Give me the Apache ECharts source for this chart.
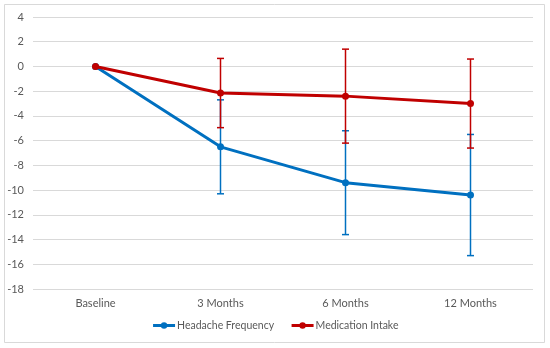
<!DOCTYPE html>
<html><head><meta charset="utf-8">
<script src="https://cdn.jsdelivr.net/npm/echarts@6/dist/echarts.min.js"></script>
<style>html,body{margin:0;padding:0;background:#fff}#c{width:550px;height:348px}</style>
</head><body><div id="c"></div>
<script>
const categories = ['Baseline', '3 Months', '6 Months', '12 Months'];
const headache = [0, -6.5, -9.4, -10.4];
const headacheErr = [0, 3.8, 4.2, 4.9];
const medication = [0, -2.15, -2.4, -3.0];
const medicationErr = [0, 2.8, 3.8, 3.6];
const yTicks = {min: -18, max: 4, interval: 2};

const FONT = 'Lato, "Liberation Sans", sans-serif';
const BLUE = '#0070C0', RED = '#C00000';

function errData(vals, errs){
  return vals.map((v,i)=>[i, v - errs[i], v + errs[i], errs[i]]);
}
function errSeries(name, vals, errs, color){
  return {
    type: 'custom', name: name + ' err', z: 3,
    data: errData(vals, errs),
    renderItem: function(params, api){
      if (api.value(3) === 0) return null;
      const x = api.value(0);
      const lo = api.coord([x, api.value(1)]);
      const hi = api.coord([x, api.value(2)]);
      const w = 3.5;
      const style = {stroke: color, lineWidth: 1.5};
      return {type:'group', children:[
        {type:'line', shape:{x1:lo[0],y1:lo[1],x2:hi[0],y2:hi[1]}, style},
        {type:'line', shape:{x1:lo[0]-w,y1:lo[1],x2:lo[0]+w,y2:lo[1]}, style},
        {type:'line', shape:{x1:hi[0]-w,y1:hi[1],x2:hi[0]+w,y2:hi[1]}, style}
      ]};
    },
    silent: true, tooltip:{show:false}
  };
}

const chart = echarts.init(document.getElementById('c'), null, {renderer:'canvas'});
chart.setOption({
  animation: false,
  backgroundColor: '#fff',
  graphic: [{type:'rect', shape:{x:4.5,y:4.5,width:540,height:338}, style:{fill:'none', stroke:'#d9d9d9', lineWidth:1}, silent:true, z:-1}],
  grid: {left: 33, right: 17, top: 17, bottom: 59},
  legend: {
    bottom: 12, left: 'center', itemGap: 16, itemWidth: 22, itemHeight: 8,
    data: ['Headache Frequency', 'Medication Intake'],
    lineStyle: {width: 3},
    textStyle: {fontFamily: FONT, fontSize: 10.5, color: '#595959', padding: [0,0,0,-3]}
  },
  xAxis: {
    type: 'category', data: categories, boundaryGap: true,
    axisLine: {show: false}, axisTick: {show: false},
    axisLabel: {fontFamily: FONT, fontSize: 11, color: '#595959', margin: 9}
  },
  yAxis: {
    type: 'value', min: yTicks.min, max: yTicks.max, interval: yTicks.interval,
    axisLine: {show: false}, axisTick: {show: false},
    splitLine: {lineStyle: {color: '#d9d9d9', width: 1}},
    axisLabel: {fontFamily: FONT, fontSize: 11, color: '#595959', margin: 9}
  },
  series: [
    errSeries('Headache Frequency', headache, headacheErr, BLUE),
    errSeries('Medication Intake', medication, medicationErr, RED),
    {name:'Headache Frequency', type:'line', data: headache, z: 4,
     symbol:'circle', symbolSize: 7, itemStyle:{color: BLUE},
     lineStyle:{color: BLUE, width: 3}},
    {name:'Medication Intake', type:'line', data: medication, z: 5,
     symbol:'circle', symbolSize: 7, itemStyle:{color: RED},
     lineStyle:{color: RED, width: 3}}
  ]
});
</script></body></html>
